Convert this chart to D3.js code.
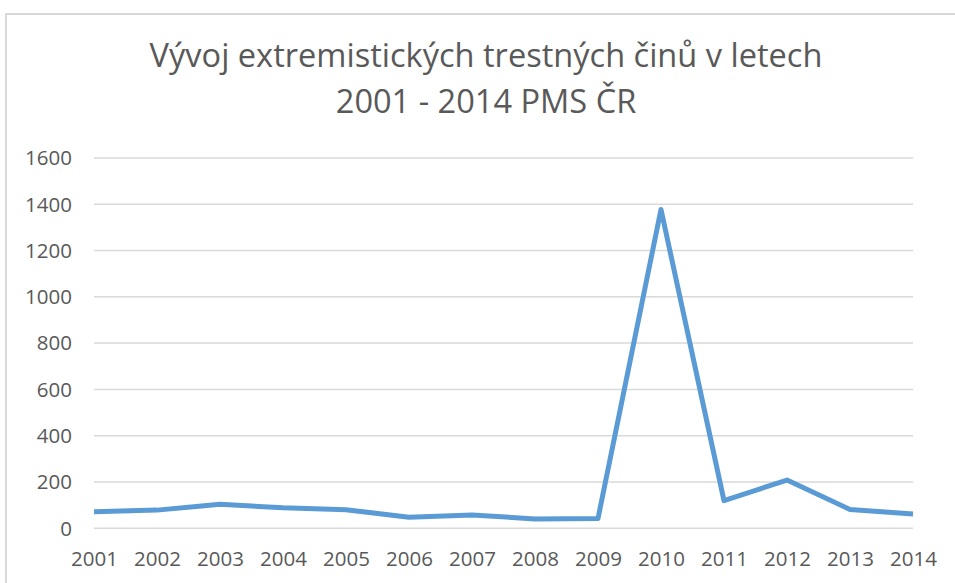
<!DOCTYPE html>
<html>
<head>
<meta charset="utf-8">
<script src="https://cdn.jsdelivr.net/npm/d3@7/dist/d3.min.js"></script>
<style>
  html, body { margin: 0; padding: 0; background: #fff; }
  svg { display: block; }
</style>
</head>
<body>
<svg id="chart" width="955" height="583"></svg>
<script>
const years = ["2001","2002","2003","2004","2005","2006","2007","2008","2009","2010","2011","2012","2013","2014"];
const values = [69, 76, 101, 86, 78, 45, 55, 38, 40, 1375, 117, 206, 79, 59];
const yTicks = [0, 200, 400, 600, 800, 1000, 1200, 1400, 1600];
const titleLines = ["Vývoj extremistických trestných činů v letech", "2001 - 2014 PMS ČR"];

const svg = d3.select("#chart");
const W = 955, H = 583;
const margin = { left: 94, right: 42, top: 157.5, bottom: 55.3 };
const font = "'Open Sans', sans-serif";
const textColor = "#595959";

// chart border
svg.append("rect")
  .attr("x", 6).attr("y", 14)
  .attr("width", W + 10).attr("height", H + 10)
  .attr("fill", "#fff")
  .attr("stroke", "#d9d9d9").attr("stroke-width", 2);

const x = d3.scalePoint().domain(years).range([margin.left, W - margin.right]);
const y = d3.scaleLinear().domain([0, 1600]).range([H - margin.bottom, margin.top]);

// gridlines
const grid = svg.append("g")
  .attr("transform", `translate(${margin.left},0)`)
  .call(d3.axisLeft(y).tickValues(yTicks).tickSize(-(W - margin.right - margin.left)).tickFormat(""));
grid.select(".domain").remove();
grid.selectAll(".tick line").attr("stroke", "#d9d9d9").attr("stroke-width", 1.5);

// y labels
const yAxis = svg.append("g")
  .attr("transform", `translate(${margin.left - 22},0)`)
  .call(d3.axisLeft(y).tickValues(yTicks).tickFormat(d3.format("d")).tickSize(0).tickPadding(0));
yAxis.select(".domain").remove();
yAxis.selectAll("text")
  .attr("font-family", font).attr("font-size", 20.5)
  .attr("fill", textColor).attr("dy", "0.36em");

// x labels
const xAxis = svg.append("g")
  .attr("transform", `translate(0,${H - margin.bottom})`)
  .call(d3.axisBottom(x).tickSize(0).tickPadding(0));
xAxis.select(".domain").remove();
xAxis.selectAll("text")
  .attr("font-family", font).attr("font-size", 20.5)
  .attr("fill", textColor).attr("dy", 0).attr("y", 38);

// line
const line = d3.line().x((d, i) => x(years[i])).y(d => y(d));
svg.append("path")
  .datum(values)
  .attr("d", line)
  .attr("fill", "none")
  .attr("stroke", "#5b9bd5")
  .attr("stroke-width", 5)
  .attr("stroke-linejoin", "round")
  .attr("stroke-linecap", "butt");

// title
const cx = 486;
const t1 = svg.append("text")
  .attr("x", cx).attr("y", 67)
  .attr("text-anchor", "middle")
  .attr("font-family", font).attr("font-size", 31)
  .attr("fill", textColor)
  .text(titleLines[0]);
const w1 = t1.node().getComputedTextLength();
const fs = 31 * 673 / w1;
t1.attr("font-size", fs);
svg.append("text")
  .attr("x", cx).attr("y", 113)
  .attr("text-anchor", "middle")
  .attr("font-family", font).attr("font-size", fs)
  .attr("fill", textColor)
  .text(titleLines[1]);
</script>
</body>
</html>
